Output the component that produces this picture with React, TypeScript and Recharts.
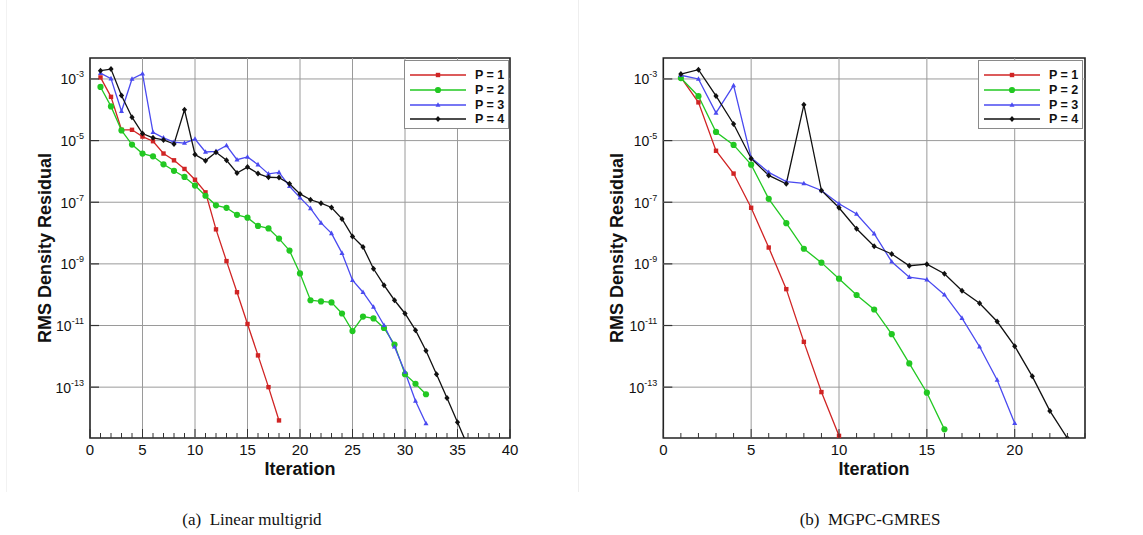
import React from "react";
import { LineChart, Line, XAxis, YAxis, ReferenceLine, ReferenceArea } from "recharts";

// exponents of RMS density residual (log10)
const LM_P1 = [-2.95, -3.58, -4.65, -4.65, -4.87, -5.02, -5.42, -5.64, -5.92, -6.27, -6.68, -7.88, -8.91, -9.92, -10.95, -11.97, -13.0, -14.08];
const LM_P2 = [-3.26, -3.89, -4.67, -5.13, -5.42, -5.51, -5.77, -5.98, -6.18, -6.46, -6.79, -7.1, -7.18, -7.41, -7.5, -7.77, -7.85, -8.18, -8.57, -9.31, -10.18, -10.22, -10.25, -10.61, -11.18, -10.71, -10.77, -11.08, -11.62, -12.58, -12.89, -13.23];
const LM_P3 = [-2.81, -2.99, -4.05, -3.0, -2.83, -4.73, -4.91, -5.05, -5.08, -4.95, -5.37, -5.35, -5.16, -5.62, -5.53, -5.78, -6.08, -6.03, -6.48, -6.85, -7.2, -7.67, -8.01, -8.65, -9.53, -9.92, -10.4, -10.99, -11.69, -12.51, -13.45, -14.18];
const LM_P4 = [-2.73, -2.68, -3.54, -4.24, -4.77, -4.91, -4.98, -5.11, -4.0, -5.45, -5.65, -5.38, -5.64, -6.05, -5.86, -6.07, -6.19, -6.2, -6.4, -6.73, -6.92, -7.03, -7.17, -7.54, -8.11, -8.45, -9.16, -9.69, -10.18, -10.61, -11.15, -11.82, -12.58, -13.35, -14.14, -14.93];

const MG_P1 = [-2.95, -3.76, -5.33, -6.07, -7.18, -8.47, -9.82, -11.53, -13.16, -14.58];
const MG_P2 = [-2.97, -3.56, -4.72, -5.14, -5.78, -6.89, -7.68, -8.51, -8.96, -9.48, -10.01, -10.48, -11.28, -12.23, -13.18, -14.37];
const MG_P3 = [-2.88, -3.0, -4.1, -3.21, -5.56, -6.03, -6.33, -6.39, -6.62, -7.05, -7.38, -8.02, -8.93, -9.43, -9.51, -10.0, -10.76, -11.69, -12.77, -14.17];
const MG_P4 = [-2.84, -2.7, -3.55, -4.46, -5.58, -6.13, -6.4, -3.84, -6.62, -7.18, -7.86, -8.43, -8.68, -9.06, -9.01, -9.32, -9.87, -10.28, -10.87, -11.67, -12.65, -13.77, -14.66];

const SERIES_NAMES = ["P = 1", "P = 2", "P = 3", "P = 4"];
const Y_TICKS = [-3, -5, -7, -9, -11, -13];
const LM_X_TICKS = Array.from({ length: 41 }, (_, i) => i);
const MG_X_TICKS = Array.from({ length: 25 }, (_, i) => i);
const LM_GRID_X = [5, 10, 15, 20, 25, 30, 35];
const MG_GRID_X = [5, 10, 15, 20];
const Y_DOMAIN: [number, number] = [-14.65, -2.32];

const COLORS = ["#d02424", "#22c822", "#4a4af0", "#111111"];
const FONT = "'Liberation Sans', Arial, Helvetica, sans-serif";

const toRows = (vals: number[]) => vals.map((v, i) => ({ it: i + 1, r: v }));

const marker = (kind: number, color: string, cx: number, cy: number, key?: any) => {
  if (cx == null || cy == null) return <g key={key} />;
  if (kind === 0) return <rect key={key} x={cx - 2.2} y={cy - 2.2} width={4.4} height={4.4} fill={color} />;
  if (kind === 1) return <circle key={key} cx={cx} cy={cy} r={3.1} fill={color} />;
  if (kind === 2)
    return <polygon key={key} points={`${cx},${cy - 2.8} ${cx + 2.5},${cy + 1.8} ${cx - 2.5},${cy + 1.8}`} fill={color} />;
  return <polygon key={key} points={`${cx},${cy - 3} ${cx + 2.6},${cy} ${cx},${cy + 3} ${cx - 2.6},${cy}`} fill={color} />;
};

const XTick = (props: any) => {
  const { x, y, payload } = props;
  const major = payload.value % 5 === 0;
  return (
    <g>
      <line x1={x} x2={x} y1={y} y2={y - (major ? 9 : 5)} stroke="#333" strokeWidth={1} />
      {major && (
        <text x={x} y={y + 17} textAnchor="middle" fontSize={15} fill="#111" fontFamily={FONT}>
          {payload.value}
        </text>
      )}
    </g>
  );
};

const YTick = (props: any) => {
  const { x, y, payload } = props;
  return (
    <g>
      <line x1={x} x2={x + 9} y1={y} y2={y} stroke="#333" strokeWidth={1.2} />
      <text x={x - 6} y={y + 5.5} textAnchor="end" fontSize={14} fill="#111" fontFamily={FONT}>
        <tspan>10</tspan>
        <tspan dy={-7} fontSize={9}>{String(payload.value)}</tspan>
      </text>
    </g>
  );
};

function Residuals({ series, xMax, xTicks, gridX, width, marginLeft, marginRight }: any) {
  return (
    <LineChart width={width} height={535} margin={{ top: 58, right: marginRight, bottom: 67, left: marginLeft }}>
      <XAxis
        type="number"
        dataKey="it"
        domain={[0, xMax]}
        ticks={xTicks}
        interval={0}
        tick={<XTick />}
        tickLine={false}
        tickSize={0}
        tickMargin={0}
        axisLine={false}
        height={30}
        allowDataOverflow
      />
      <YAxis
        type="number"
        dataKey="r"
        domain={Y_DOMAIN}
        ticks={Y_TICKS}
        interval={0}
        tick={<YTick />}
        tickLine={false}
        tickSize={0}
        tickMargin={0}
        axisLine={false}
        width={60}
        allowDataOverflow
      />
      {gridX.map((g: number) => (
        <ReferenceLine key={`gx${g}`} x={g} stroke="#9a9a9a" strokeWidth={1} />
      ))}
      {Y_TICKS.map((g) => (
        <ReferenceLine key={`gy${g}`} y={g} stroke="#9a9a9a" strokeWidth={1} />
      ))}
      {series.map((vals: number[], k: number) => (
        <Line
          key={SERIES_NAMES[k]}
          name={SERIES_NAMES[k]}
          data={toRows(vals)}
          dataKey="r"
          stroke={COLORS[k]}
          strokeWidth={1.3}
          isAnimationActive={false}
          dot={(p: any) => marker(k, COLORS[k], p.cx, p.cy, p.key ?? `${k}-${p.index}`)}
          activeDot={false}
        />
      ))}
      <ReferenceArea x1={0} x2={xMax} y1={Y_DOMAIN[0]} y2={Y_DOMAIN[1]} fill="none" stroke="#222" strokeWidth={1.6} />
    </LineChart>
  );
}

function LegendBox({ left, top }: { left: number; top: number }) {
  return (
    <div
      style={{
        position: "absolute",
        left,
        top,
        width: 105,
        height: 69,
        background: "#fff",
        border: "1px solid #8a8a8a",
        boxSizing: "border-box",
        zIndex: 2,
      }}
    >
      {SERIES_NAMES.map((n, k) => (
        <div key={n} style={{ position: "absolute", left: 0, top: 7 + k * 14.8, height: 14, width: 105 }}>
          <svg width={64} height={14} style={{ position: "absolute", left: 2, top: 0 }}>
            <line x1={3} x2={59} y1={7} y2={7} stroke={COLORS[k]} strokeWidth={1.3} />
            {marker(k, COLORS[k], 31, 7)}
          </svg>
          <span
            style={{
              position: "absolute",
              left: 70,
              top: -1,
              fontFamily: FONT,
              fontWeight: "bold",
              fontSize: 12.5,
              lineHeight: "16px",
              color: "#111",
              whiteSpace: "pre",
            }}
          >
            {n}
          </span>
        </div>
      ))}
    </div>
  );
}

const labelStyle: React.CSSProperties = {
  position: "absolute",
  fontFamily: FONT,
  fontWeight: "bold",
  fontSize: 18,
  color: "#111",
  whiteSpace: "pre",
  transform: "translate(-50%, -50%)",
  zIndex: 2,
};

const captionStyle: React.CSSProperties = {
  position: "absolute",
  fontFamily: "'Liberation Serif', 'Times New Roman', serif",
  fontSize: 17,
  color: "#111",
  whiteSpace: "pre",
  transform: "translate(-50%, -50%)",
};

export default function App() {
  return (
    <div style={{ position: "fixed", left: 0, top: 0, width: 1143, height: 535, background: "#fff", overflow: "hidden" }}>
      <div style={{ position: "absolute", left: 6, top: 0, width: 1, height: 492, background: "#f2f2f2" }} />
      <div style={{ position: "absolute", left: 578, top: 0, width: 1, height: 492, background: "#eeeeee" }} />

      <div style={{ position: "absolute", left: 0, top: 0 }}>
        <Residuals
          series={[LM_P1, LM_P2, LM_P3, LM_P4]}
          xMax={40}
          xTicks={LM_X_TICKS}
          gridX={LM_GRID_X}
          width={580}
          marginLeft={30}
          marginRight={70}
        />
      </div>
      <div style={{ position: "absolute", left: 580, top: 0 }}>
        <Residuals
          series={[MG_P1, MG_P2, MG_P3, MG_P4]}
          xMax={24}
          xTicks={MG_X_TICKS}
          gridX={MG_GRID_X}
          width={563}
          marginLeft={23.3}
          marginRight={58}
        />
      </div>

      <LegendBox left={404} top={60} />
      <LegendBox left={978} top={60} />

      <div style={{ ...labelStyle, left: 45, top: 248, transform: "translate(-50%, -50%) rotate(-90deg)" }}>RMS Density Residual</div>
      <div style={{ ...labelStyle, left: 617, top: 248, transform: "translate(-50%, -50%) rotate(-90deg)" }}>RMS Density Residual</div>
      <div style={{ ...labelStyle, left: 300, top: 469 }}>Iteration</div>
      <div style={{ ...labelStyle, left: 874, top: 469 }}>Iteration</div>

      <div style={{ ...captionStyle, left: 252, top: 520 }}>{"(a)  Linear multigrid"}</div>
      <div style={{ ...captionStyle, left: 870, top: 520 }}>{"(b)  MGPC-GMRES"}</div>
    </div>
  );
}
